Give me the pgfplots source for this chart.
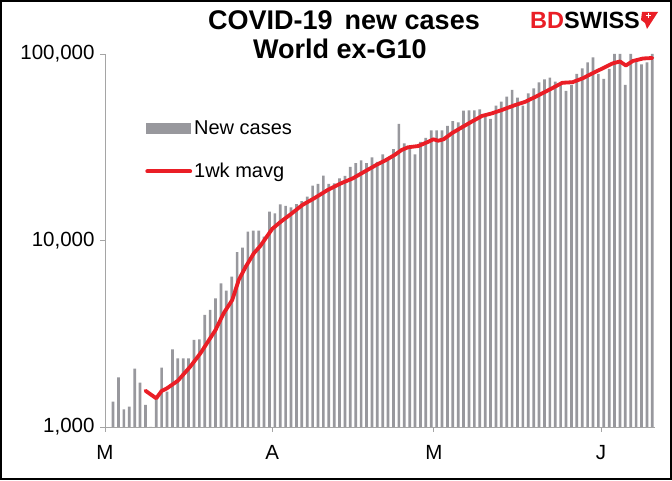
\documentclass[border=0pt]{standalone}
\usepackage{fontspec}
\setmainfont{Liberation Sans}
\usepackage{pgfplots}
\usepackage{pgfplotstable}
\pgfplotsset{compat=1.18}
\definecolor{bargray}{RGB}{152,152,157}
\definecolor{mred}{RGB}{234,30,38}
\definecolor{axgray}{RGB}{165,165,165}

\pgfplotstableread{
d v
1 1367
2 1847
3 1244
4 1285
5 2054
6 1728
7 1312
8 1000
9 1448
10 2080
11 1547
12 2610
13 2335
14 2335
15 2335
16 2928
17 2953
18 3986
19 4240
20 4898
21 5895
22 5381
23 6397
24 8675
25 9150
26 11150
27 11290
28 11290
29 10480
30 14270
31 13990
32 15640
33 15310
34 15030
35 15690
36 16280
37 17180
38 19670
39 20090
40 22260
41 20090
42 20260
43 21550
44 22180
45 24790
46 26030
47 26850
48 26030
49 27930
50 26360
51 28990
52 27860
53 30870
54 42140
55 33200
56 31330
57 28990
58 33750
59 35530
60 38890
61 38890
62 38890
63 41110
64 43620
65 42920
66 49660
67 49780
68 49780
69 50520
70 47100
71 44820
72 52820
73 55490
74 59020
75 64120
76 58300
77 52820
78 61550
79 65480
80 70530
81 73160
82 74630
83 71200
84 68210
85 63330
86 68210
87 78120
88 83800
89 90250
90 95760
91 78120
92 73450
93 83100
94 100000
95 100000
96 68210
97 100000
98 91730
99 87850
100 90250
101 100000
}\bars

\pgfplotstableread{
d v
7 1565
9 1425
10 1560
11 1613
13 1769
15.3 2105
17.2 2485
20 3313
21.5 4071
23.1 4797
24.3 6140
25.6 7235
27.1 8540
28.3 9343
30.5 11530
32.1 12610
34 13870
36.1 15500
38.3 16840
40.8 18660
43.3 20270
45.5 21560
47.6 23380
49.8 25400
51.4 26790
53.2 28730
54.5 30560
55.7 31600
57.6 32110
59.5 33870
60.4 34880
61.3 34280
62.3 34880
63.8 37560
65.7 40460
67.5 43360
69.4 46510
71.3 48090
73.1 50090
75.6 53280
77.5 55490
80 60290
82.5 65700
84.3 70080
86.2 70600
88.1 74070
89.9 78790
91.8 83800
93.7 89160
95 91150
96.1 86770
97.4 91730
99.3 94600
101 95190
}\mavg

\begin{document}
\begin{tikzpicture}[x=1pt,y=1pt]
\useasboundingbox (0,0) rectangle (672,480);
\fill[white] (0,0) rectangle (672,480);
\draw[black, line width=2pt] (1,1) rectangle (671,479);
\begin{axis}[
  scale only axis, width=550pt, height=373pt,
  at={(105pt,53pt)}, anchor=south west,
  ymode=log, log origin y=infty,
  ymin=1000, ymax=100000,
  xmin=-0.5, xmax=101.5,
  ytick={1000,10000,100000},
  yticklabels={{1,000},{10,000},{100,000}},
  yminorticks=false,
  xtick={-0.5,30.5,60.5,91.5},
  xticklabels={M,A,M,J},
  axis x line*=bottom, axis y line*=left,
  axis line style={axgray, line width=0.9pt},
  tick style={axgray, line width=0.9pt},
  tick align=outside, major tick length=5pt,
  ticklabel style={font=\fontsize{20.5}{24}\selectfont, text=black},
  xticklabel style={yshift=-10pt},
  yticklabel style={xshift=-2pt},
  legend style={at={(0.073,0.826)}, anchor=north west, draw=none, fill=none,
    font=\fontsize{20}{24}\selectfont, row sep=23pt, inner sep=0pt,
    /tikz/every even column/.append style={column sep=3pt}},
  legend cell align=left,
]
\addplot[ybar, bar width=2.7pt, fill=bargray, draw=none,
  legend image code/.code={\fill[bargray] (0pt,-5.5pt) rectangle (45pt,5.5pt);}]
  table[x=d, y=v] {\bars};
\addlegendentry{New cases}
\addplot[mred, line width=3.8pt, line join=round, line cap=round,
  legend image code/.code={\draw[mred, line width=3.8pt, line cap=round] (1pt,0pt) -- (44pt,0pt);}]
  table[x=d, y=v] {\mavg};
\addlegendentry{1wk mavg}
\end{axis}
\node[anchor=base, font=\bfseries\fontsize{27}{30}\selectfont, inner sep=0pt] at (344,450) {COVID-19 \,new cases};
\node[anchor=base, font=\bfseries\fontsize{27}{30}\selectfont, inner sep=0pt] at (340,421) {World ex-G10};
\node[anchor=base west, font=\bfseries\fontsize{23.5}{28}\selectfont, inner sep=0pt] at (530,451) {\textcolor{mred}{BD}SWISS};
\fill[mred] (642,468) -- (658,468) -- (647,451) -- (645,457) -- (641,460) -- cycle;
\draw[white, line width=1.3pt] (646,464.5) -- (651,464.5) (648.5,462) -- (648.5,467);
\end{tikzpicture}
\end{document}
